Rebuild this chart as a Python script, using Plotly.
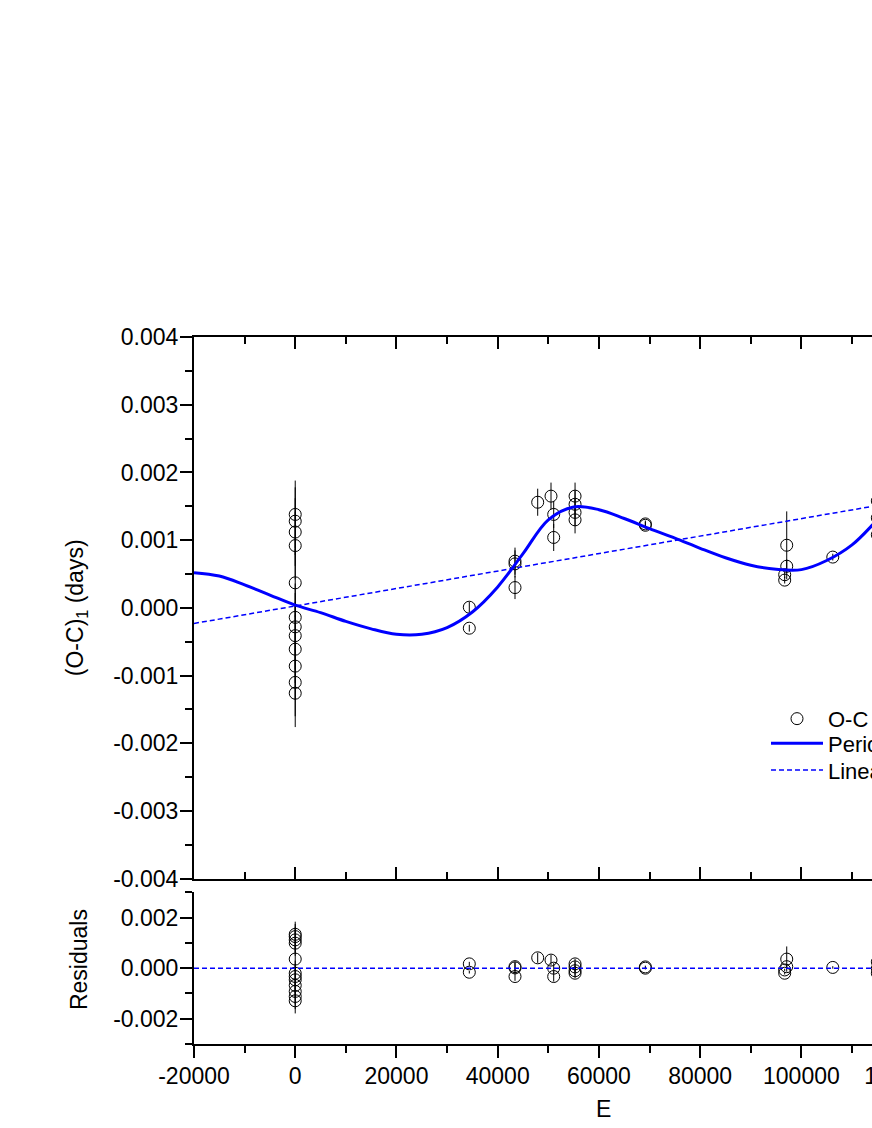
import plotly.graph_objects as go

# ---------------- data ----------------
# O-C observations (main panel)
oc_E = [0, 0, 0, 0, 0, 0, 0, 0, 0, 0, 0, 0,
        34390, 34390,
        43420, 43420, 43420,
        47900, 50530, 51060, 51060,
        55280, 55280, 55280, 55280,
        69170, 69170,
        97100, 97100, 96700, 96700,
        106200,
        115000, 115000, 115000]
oc_val = [0.00138, 0.00128, 0.00112, 0.00092, 0.00037, -0.00014, -0.00028, -0.00041,
          -0.00061, -0.00086, -0.00110, -0.00126,
          0.00001, -0.00030,
          0.00069, 0.00065, 0.00030,
          0.00156, 0.00165, 0.00138, 0.00104,
          0.00165, 0.00153, 0.00141, 0.00130,
          0.00124, 0.00122,
          0.000925, 0.000615, 0.00049, 0.00041,
          0.00075,
          0.00158, 0.00133, 0.00108]
oc_err = [0.0005] * 12 + [0.00008, 0.00005,
          0.0002, 0.0002, 0.00017,
          0.0002, 0.0002, 0.0002, 0.0002,
          0.0002, 0.0002, 0.0002, 0.0002,
          0.00005, 0.00005,
          0.0005, 0.0001, 0.00005, 0.00005,
          0.00005,
          0.0001, 0.0001, 0.0001]

# Residuals (lower panel)
res_val = [0.00134, 0.00125, 0.00112, 0.00099, 0.00036, -0.00020, -0.00033, -0.00046,
           -0.00068, -0.00092, -0.00112, -0.00129,
           0.00017, -0.00016,
           0.00006, 0.00001, -0.00033,
           0.00041, 0.00032, 0.00000, -0.00033,
           0.00017, 0.00005, -0.00010, -0.00020,
           0.00005, 0.00000,
           0.00036, 0.00006, -0.00007, -0.00020,
           0.00003,
           0.00025, -0.00001, -0.00020]

# Periodic fit curve
fit_E = [-20000, -15000, -10000, -5000, 0, 5000, 10000, 15000, 20000, 25000, 30000,
         35000, 40000, 45000, 50000, 55000, 60000, 65000, 70000, 75000, 80000, 85000,
         90000, 95000, 100000, 105000, 110000, 115000, 120000]
fit_val = [0.00052, 0.00047, 0.00034, 0.00019, 0.00004, -0.00007, -0.0002, -0.00031,
           -0.00039, -0.00039, -0.00029, -0.00006, 0.00031, 0.0008, 0.0013, 0.00149,
           0.00145, 0.00132, 0.00117, 0.00103, 0.00088, 0.00074, 0.00063, 0.00057,
           0.000565, 0.0007, 0.00093, 0.0013, 0.0017]

# Linear fit
lin_E = [-20000, 142000]
lin_val = [-0.00023, 0.00186]

# Residual zero line
zero_E = [-20000, 142000]
zero_val = [0.0, 0.0]

# Tick labels
x_tickvals = [-20000, 0, 20000, 40000, 60000, 80000, 100000, 120000, 140000]
x_ticktext = ["-20000", "0", "20000", "40000", "60000", "80000", "100000", "120000", "140000"]
y_tickvals = [0.004, 0.003, 0.002, 0.001, 0.0, -0.001, -0.002, -0.003, -0.004]
y_ticktext = ["0.004", "0.003", "0.002", "0.001", "0.000", "-0.001", "-0.002", "-0.003", "-0.004"]
r_tickvals = [0.002, 0.0, -0.002]
r_ticktext = ["0.002", "0.000", "-0.002"]

# ---------------- figure ----------------
FONT = "Liberation Sans, Arial, sans-serif"
BLUE = "#0000FF"

fig = go.Figure()

fig.add_trace(go.Scatter(
    x=oc_E, y=oc_val, mode="markers", name="O-C", legend="legend",
    marker=dict(symbol="circle-open", size=12, color="black", line=dict(width=1, color="black")),
    error_y=dict(type="data", array=oc_err, visible=True, color="black", thickness=1, width=0),
    xaxis="x", yaxis="y"))

fig.add_trace(go.Scatter(
    x=fit_E, y=fit_val, mode="lines", name="Periodic fit", legend="legend2",
    line=dict(color=BLUE, width=3, shape="spline", smoothing=1.0),
    xaxis="x", yaxis="y"))

fig.add_trace(go.Scatter(
    x=lin_E, y=lin_val, mode="lines", name="Linear fit", legend="legend3",
    line=dict(color=BLUE, width=1.5, dash="5px,3px"),
    xaxis="x", yaxis="y"))

fig.add_trace(go.Scatter(
    x=oc_E, y=res_val, mode="markers", showlegend=False,
    marker=dict(symbol="circle-open", size=12, color="black", line=dict(width=1, color="black")),
    error_y=dict(type="data", array=oc_err, visible=True, color="black", thickness=1, width=0),
    xaxis="x2", yaxis="y2"))

fig.add_trace(go.Scatter(
    x=zero_E, y=zero_val, mode="lines", showlegend=False,
    line=dict(color=BLUE, width=1.5, dash="5px,3px"),
    xaxis="x2", yaxis="y2"))

XR = [-20000, 142000]
tickfont = dict(family=FONT, size=23, color="black")
common_x = dict(range=XR, tickvals=x_tickvals, ticktext=x_ticktext, showline=True,
                linewidth=2, linecolor="black", tickwidth=2, tickcolor="black",
                ticklen=12, showgrid=False, zeroline=False, tickfont=tickfont)

L = 194
T = 336.7
B_edge = 1044
W = 1100
H = 1128
PW = 820
plot_h = B_edge - T


def leg(top_px):
    return dict(x=(766 - L) / PW, y=(B_edge - top_px) / plot_h, xanchor="left",
                yanchor="top", bgcolor="rgba(0,0,0,0)", itemwidth=52,
                font=dict(family=FONT, size=22, color="black"))


fig.update_layout(
    width=W, height=H,
    margin=dict(l=L, r=W - L - PW, t=T, b=H - B_edge, pad=0),
    paper_bgcolor="white", plot_bgcolor="white",
    font=dict(family=FONT, size=23, color="black"),
    showlegend=True,
    legend=leg(697.7), legend2=leg(722.3), legend3=leg(749),
    xaxis=dict(common_x, domain=[0, 1], anchor="y", ticks="inside", mirror="ticks",
               showticklabels=False,
               minor=dict(ticks="inside", ticklen=7, tickwidth=2, tickcolor="black",
                          dtick=10000, tick0=0)),
    yaxis=dict(domain=[(1044 - 878.7) / (1044 - 336.7), 1], anchor="x",
               range=[-0.004, 0.004], tickvals=y_tickvals, ticktext=y_ticktext,
               ticks="outside", ticklen=12, tickwidth=2, tickcolor="black",
               showline=True, linewidth=2, linecolor="black", mirror=True,
               showgrid=False, zeroline=False, tickfont=tickfont, ticklabelstandoff=-3,
               minor=dict(ticks="outside", ticklen=7, tickwidth=2, tickcolor="black",
                          dtick=0.0005, tick0=0)),
    xaxis2=dict(common_x, domain=[0, 1], anchor="y2", ticks="outside",
                showticklabels=True, ticklabelstandoff=-2,
                minor=dict(ticks="outside", ticklen=7, tickwidth=2, tickcolor="black",
                           dtick=10000, tick0=0)),
    xaxis3=dict(common_x, overlaying="x2", anchor="y2", side="top", ticks="inside",
                showticklabels=False,
                minor=dict(ticks="inside", ticklen=7, tickwidth=2, tickcolor="black",
                           dtick=10000, tick0=0)),
    yaxis2=dict(domain=[0, (1044 - 892.3) / (1044 - 336.7)], anchor="x2",
                range=[-0.003, 0.003], tickvals=r_tickvals, ticktext=r_ticktext,
                ticks="outside", ticklen=12, tickwidth=2, tickcolor="black",
                showline=True, linewidth=2, linecolor="black", mirror=True,
                showgrid=False, zeroline=False, tickfont=tickfont, ticklabelstandoff=-3,
                minor=dict(ticks="outside", ticklen=7, tickwidth=2, tickcolor="black",
                           dtick=0.001, tick0=0)),
)

fig.add_annotation(text="(O-C)<sub>1</sub> (days)", xref="paper", yref="paper",
                   x=0, y=(1044 - 608) / plot_h, xshift=76 - 194, textangle=-90,
                   xanchor="center", yanchor="middle", showarrow=False,
                   font=dict(family=FONT, size=23, color="black"))
fig.add_annotation(text="Residuals", xref="paper", yref="paper",
                   x=0, y=(1044 - 960) / plot_h, xshift=79 - 194, textangle=-90,
                   xanchor="center", yanchor="middle", showarrow=False,
                   font=dict(family=FONT, size=23, color="black"))
fig.add_annotation(text="E", xref="paper", yref="paper",
                   x=(603 - 194) / PW, y=0, yshift=-(1109 - 1044), xanchor="center",
                   yanchor="middle", showarrow=False,
                   font=dict(family=FONT, size=23, color="black"))

fig.write_html(
    "out.html",
    config={"displayModeBar": False},
    post_script="document.body.style.margin='0px';"
                "document.documentElement.style.overflow='hidden';"
                "document.body.style.overflow='hidden';")
